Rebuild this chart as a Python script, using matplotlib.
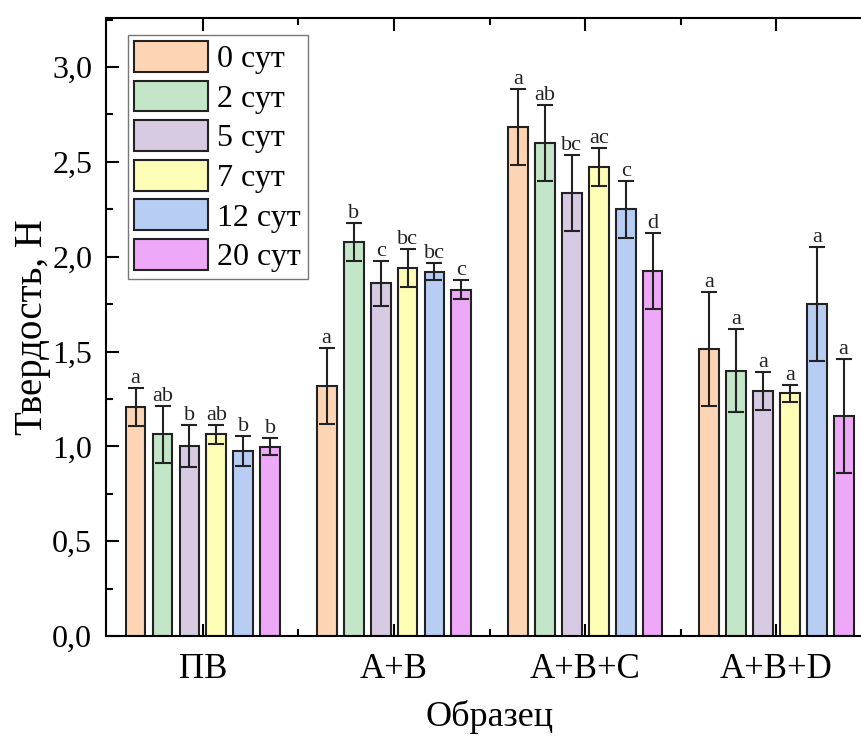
import matplotlib
matplotlib.use('Agg')
import matplotlib.pyplot as plt
from matplotlib.ticker import MultipleLocator, FixedLocator
import numpy as np

# data
groups = ['ПВ', 'A+B', 'A+B+C', 'A+B+D']
days = ['0 сут', '2 сут', '5 сут', '7 сут', '12 сут', '20 сут']
colors = ['#FDD5B4', '#C4E6C8', '#D7CBE4', '#FEFDB6', '#B7CDF4', '#EDA8F7']

m0 = [1.21, 1.32, 2.685, 1.513]
m2 = [1.065, 2.08, 2.60, 1.40]
m5 = [1.003, 1.86, 2.335, 1.29]
m7 = [1.063, 1.94, 2.475, 1.28]
m12 = [0.975, 1.92, 2.25, 1.75]
m20 = [0.998, 1.825, 1.925, 1.16]

e0 = [0.10, 0.20, 0.20, 0.30]
e2 = [0.15, 0.10, 0.20, 0.22]
e5 = [0.11, 0.12, 0.20, 0.10]
e7 = [0.05, 0.10, 0.10, 0.045]
e12 = [0.08, 0.045, 0.15, 0.30]
e20 = [0.045, 0.05, 0.20, 0.30]

l0 = ['a', 'a', 'a', 'a']
l2 = ['ab', 'b', 'ab', 'a']
l5 = ['b', 'c', 'bc', 'a']
l7 = ['ab', 'bc', 'ac', 'a']
l12 = ['b', 'bc', 'c', 'a']
l20 = ['b', 'c', 'd', 'a']

yticks = [0.0, 0.5, 1.0, 1.5, 2.0, 2.5, 3.0]
ytick_labels = ['0,0', '0,5', '1,0', '1,5', '2,0', '2,5', '3,0']

all_means = [m0, m2, m5, m7, m12, m20]
all_errs = [e0, e2, e5, e7, e12, e20]
all_letters = [l0, l2, l5, l7, l12, l20]

plt.rcParams['font.family'] = ['Liberation Serif', 'DejaVu Serif']

fig = plt.figure(figsize=(8.62, 7.38), dpi=100)
# the right part of the frame runs past the picture edge, as in the original
ax = fig.add_axes([0.123, 0.138, 0.890, 0.838])

x = np.arange(len(groups))
step = 0.141
width = 0.104
for i in range(len(days)):
    pos = x + (i - 2.5) * step
    ax.bar(pos, all_means[i], width, color=colors[i], edgecolor='#222222',
           linewidth=1.5, label=days[i], zorder=2)
    ax.errorbar(pos, all_means[i], yerr=all_errs[i], fmt='none', ecolor='#222222',
                elinewidth=1.5, capsize=5.5, capthick=1.5, zorder=3)
    for xp, m, e, lab in zip(pos, all_means[i], all_errs[i], all_letters[i]):
        ax.annotate(lab, (xp, m + e), xytext=(0, 0), textcoords='offset points',
                    ha='center', va='bottom', fontsize=16, color='#222222')

ax.set_xlim(-0.507, 3.507)
ax.set_ylim(0, 3.26)
ax.set_xticks(x)
ax.set_xticklabels(groups, fontsize=25)
ax.xaxis.set_minor_locator(FixedLocator([0.5, 1.5, 2.5]))
ax.set_yticks(yticks)
ax.set_yticklabels(ytick_labels, fontsize=23)
ax.yaxis.set_minor_locator(MultipleLocator(0.25))
ax.tick_params(which='both', direction='in', top=True, right=True, width=1.5)
ax.tick_params(which='major', length=9)
ax.tick_params(which='minor', length=5)
ax.tick_params(axis='x', which='major', pad=12)
ax.tick_params(axis='y', which='major', pad=10)
for s in ax.spines.values():
    s.set_linewidth(1.5)

ax.set_xlabel('Образец', fontsize=26, labelpad=10)
ax.set_ylabel('Твердость, Н', fontsize=28, labelpad=1)

leg = ax.legend(loc='upper left', bbox_to_anchor=(0.0287, 0.9725), fontsize=23,
                handlelength=2.3, handleheight=1.1, labelspacing=0.2,
                handletextpad=0.3, borderpad=0.2, borderaxespad=0.0,
                fancybox=False, edgecolor='#777777', framealpha=1)
leg.get_frame().set_linewidth(1.0)

fig.savefig('out.png', dpi=100)
